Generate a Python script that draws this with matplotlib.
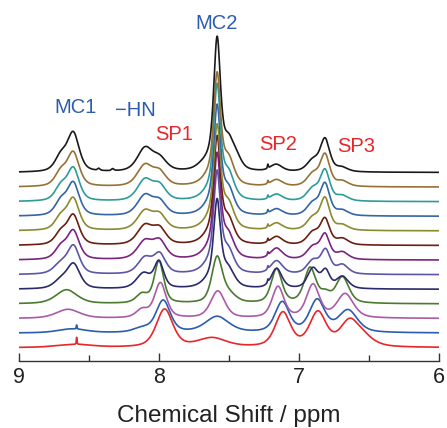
import numpy as np
import matplotlib.pyplot as plt

plt.rcParams['font.family'] = ['Liberation Sans', 'DejaVu Sans']

# peak lists: (shift / ppm, height, half width / ppm)
# spectra are listed bottom to top
red_peaks = [(8.60, 3, 0.15), (8.588, 7, 0.003), (7.96, 38, 0.07), (7.62, 9, 0.12),
             (7.115, 34, 0.065), (6.865, 34, 0.07), (6.64, 24, 0.08), (6.54, 8, 0.09)]
blue_peaks = [(8.62, 4, 0.12), (8.588, 4, 0.003), (8.12, 4, 0.07), (7.97, 32, 0.06),
              (7.585, 16, 0.10), (7.12, 30, 0.06), (6.87, 32, 0.065), (6.65, 22, 0.08)]
magenta_peaks = [(8.65, 9, 0.10), (8.12, 8, 0.05), (7.99, 35, 0.05), (7.58, 27, 0.06),
                 (7.15, 31, 0.05), (6.90, 33, 0.055), (6.67, 24, 0.07)]
green_peaks = [(8.66, 14, 0.09), (8.12, 9, 0.05), (8.00, 42, 0.04), (7.585, 45, 0.045),
               (7.50, 8, 0.06), (7.16, 34, 0.045), (6.92, 35, 0.05), (6.81, 8, 0.04),
               (6.69, 26, 0.055)]
navy_peaks = [(8.70, 8, 0.06), (8.61, 24, 0.055), (8.11, 15, 0.06), (8.00, 26, 0.04),
              (7.585, 70, 0.027), (7.585, 18, 0.08), (7.50, 12, 0.05), (7.222, 3, 0.004),
              (7.16, 20, 0.045), (6.90, 20, 0.045), (6.81, 17, 0.035), (6.69, 12, 0.05)]
slate_peaks = [(8.70, 10, 0.06), (8.61, 27, 0.05), (8.10, 16, 0.06), (7.995, 19, 0.05),
               (7.585, 82, 0.027), (7.585, 20, 0.08), (7.50, 15, 0.045), (7.222, 3, 0.004),
               (7.16, 13, 0.05), (6.90, 13, 0.05), (6.81, 23, 0.04), (6.69, 9, 0.05)]
purple_peaks = [(8.70, 12, 0.05), (8.612, 28, 0.05), (8.10, 18, 0.065), (7.995, 17, 0.055),
                (7.585, 85, 0.027), (7.585, 20, 0.08), (7.50, 16, 0.045), (7.222, 3, 0.004),
                (7.16, 11, 0.05), (6.90, 12, 0.05), (6.814, 24, 0.04), (6.69, 7, 0.05)]
darkred_peaks = [(8.70, 12, 0.05), (8.612, 29, 0.05), (8.10, 19, 0.065), (7.995, 15, 0.055),
                 (7.585, 87, 0.027), (7.585, 20, 0.08), (7.50, 17, 0.045), (7.222, 3, 0.004),
                 (7.16, 8, 0.05), (6.90, 12, 0.05), (6.814, 25, 0.04), (6.69, 6, 0.05)]
olive_peaks = [(8.70, 13, 0.05), (8.612, 31, 0.05), (8.10, 19, 0.065), (7.995, 14, 0.055),
               (7.585, 84, 0.027), (7.585, 20, 0.08), (7.50, 18, 0.045), (7.222, 3, 0.004),
               (7.16, 7, 0.05), (6.90, 12, 0.05), (6.814, 31, 0.04), (6.69, 5, 0.05)]
steel_peaks = [(8.70, 14, 0.05), (8.612, 32, 0.05), (8.10, 20, 0.065), (7.995, 13, 0.055),
               (7.585, 89, 0.027), (7.585, 20, 0.08), (7.50, 18, 0.045), (7.222, 3, 0.004),
               (7.16, 6.5, 0.05), (6.90, 12, 0.05), (6.814, 31, 0.04), (6.69, 5, 0.05)]
teal_peaks = [(8.70, 14, 0.05), (8.612, 32, 0.05), (8.10, 21, 0.065), (7.995, 14, 0.055),
              (7.585, 95, 0.027), (7.585, 20, 0.08), (7.50, 19, 0.045), (7.222, 3, 0.004),
              (7.16, 6.5, 0.05), (6.90, 12, 0.05), (6.814, 30, 0.04), (6.69, 5, 0.05)]
brown_peaks = [(8.70, 14, 0.05), (8.612, 33, 0.05), (8.10, 21, 0.065), (7.995, 13, 0.055),
               (7.585, 92, 0.027), (7.585, 20, 0.08), (7.50, 19, 0.045), (7.222, 3, 0.004),
               (7.16, 6.5, 0.05), (6.90, 12, 0.05), (6.814, 31, 0.04), (6.69, 5, 0.05)]
black_peaks = [(8.70, 15, 0.05), (8.612, 38, 0.05), (8.43, 2, 0.01), (8.33, 2, 0.01),
               (8.10, 23, 0.065), (7.995, 12, 0.06), (7.70, 2, 0.05), (7.585, 112, 0.027),
               (7.585, 20, 0.08), (7.50, 22, 0.045), (7.44, 8, 0.04), (7.222, 4, 0.004),
               (7.163, 7, 0.05), (6.90, 11, 0.05), (6.814, 32, 0.04), (6.695, 4, 0.05)]

spectra = [red_peaks, blue_peaks, magenta_peaks, green_peaks, navy_peaks, slate_peaks,
           purple_peaks, darkred_peaks, olive_peaks, steel_peaks, teal_peaks,
           brown_peaks, black_peaks]
colors = ['#e8262a', '#2c5cb0', '#a95ba8', '#4a7a30', '#2b2a6b', '#5b56a6', '#7b237f',
          '#6a1f10', '#8a8a30', '#3465a4', '#2e9b9b', '#957135', '#1a1a1a']

peak_names = ['MC1', '\u2212HN', 'SP1', 'MC2', 'SP2', 'SP3']
name_shifts = [8.593, 8.171, 7.89, 7.588, 7.148, 6.595]
name_colors = ['#2b5cb0', '#2b5cb0', '#e8262a', '#2b5cb0', '#e8262a', '#e8262a']

ppm = np.linspace(6.0, 9.0, 6001)
eta = 0.5  # lorentzian fraction of the line shape

fig = plt.figure(figsize=(4.47, 4.28), dpi=100)
ax = fig.add_axes([19 / 447, 67 / 428, 420 / 447, 361 / 428])

step = 14.6
for i, (peaks, c) in enumerate(zip(spectra, colors)):
    y = np.zeros_like(ppm)
    for x0, h, w in peaks:
        r = ((ppm - x0) / w) ** 2
        y += h * (eta / (1 + r) + (1 - eta) * np.exp(-np.log(2) * r))
    ax.plot(ppm, y + 13.3 + step * i, color=c, lw=1.2)

name_y = [253.7, 251, 227, 337.7, 217, 214.3]
for name, xs, ys, c in zip(peak_names, name_shifts, name_y, name_colors):
    ax.text(xs, ys, name, color=c, fontsize=14.5, ha='center', va='center')

ax.set_xlim(9, 6)
ax.set_ylim(0, 361)
for s in ['top', 'left', 'right']:
    ax.spines[s].set_visible(False)
ax.spines['bottom'].set_color('#333333')
ax.spines['bottom'].set_linewidth(1.0)
ax.set_yticks([])
ax.set_xticks([9, 8, 7, 6])
ax.set_xticks([8.5, 7.5, 6.5], minor=True)
ax.tick_params(axis='x', which='major', direction='in', length=6, width=1,
               color='#333333', labelsize=15.5, labelcolor='#222222', pad=4)
ax.tick_params(axis='x', which='minor', direction='in', length=4, width=1, color='#333333')
ax.set_xlabel('Chemical Shift / ppm', fontsize=17.5, color='#222222', labelpad=12.5)

fig.savefig('out.png', dpi=100)
